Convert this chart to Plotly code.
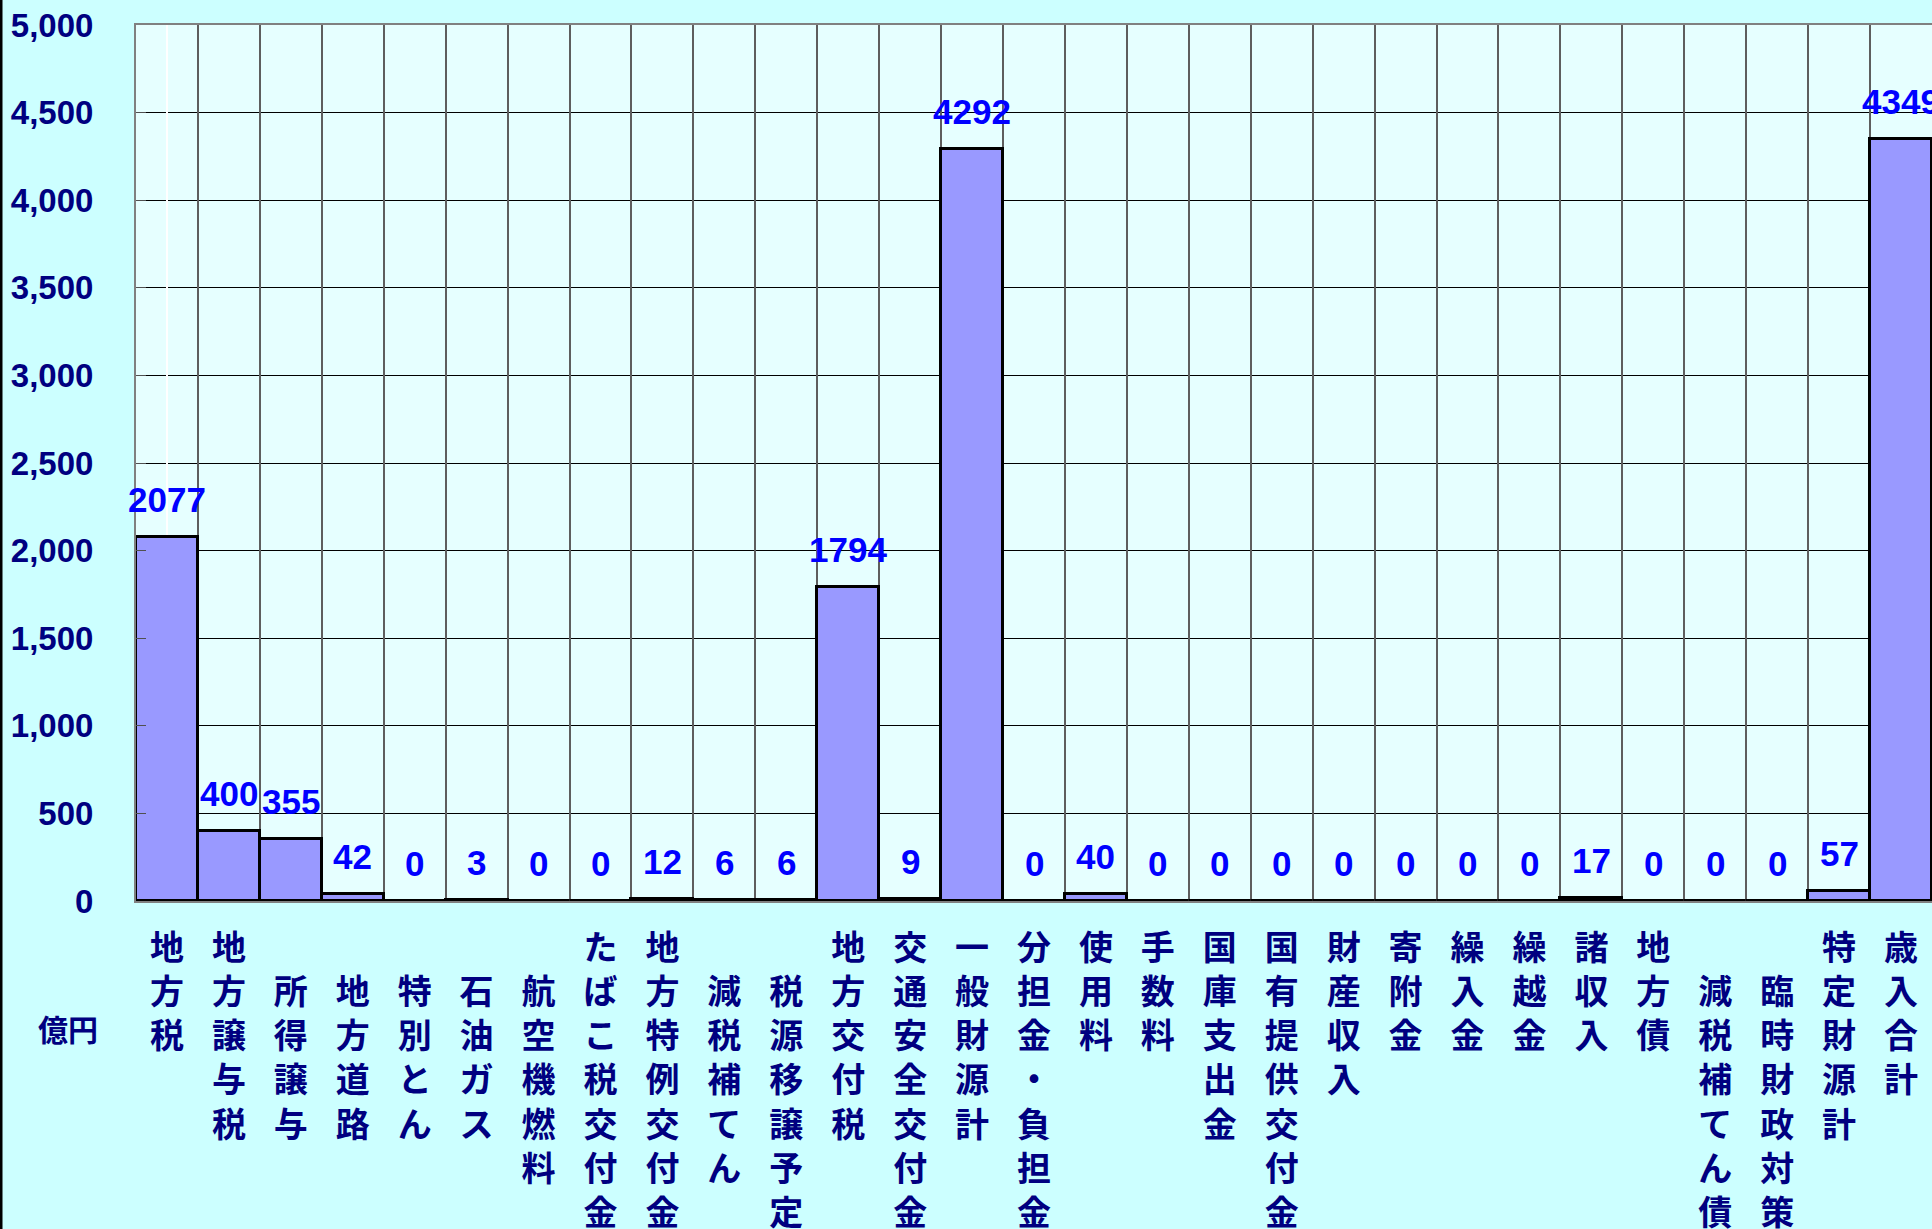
import plotly.graph_objects as go

# ---------------------------------------------------------------------------
# Data (億円)
# ---------------------------------------------------------------------------

CATEGORIES = [
    "地方税", "地方譲与税", "　所得譲与", "　地方道路", "　特別とん", "　石油ガス",
    "　航空機燃料", "たばこ税交付金", "地方特例交付金", "　減税補てん", "　税源移譲予定",
    "地方交付税", "交通安全交付金", "一般財源計", "分担金・負担金", "使用料", "手数料",
    "国庫支出金", "国有提供交付金", "財産収入", "寄附金", "繰入金", "繰越金", "諸収入",
    "地方債", "　減税補てん債", "　臨時財政対策", "特定財源計", "歳入合計",
]
VALUES = [
    2077, 400, 355, 42, 0, 3,
    0, 0, 12, 6, 6,
    1794, 9, 4292, 0, 40, 0,
    0, 0, 0.4, 0, 0, 0, 17,
    0, 0, 0, 57, 4349,
]
Y_TICKS = [0, 500, 1000, 1500, 2000, 2500, 3000, 3500, 4000, 4500, 5000]
UNIT_LABEL = "億円"

# ---------------------------------------------------------------------------
# Colours / fonts
# ---------------------------------------------------------------------------

COLOR_PAPER = "#CCFFFF"
COLOR_PLOT = "#E6FFFF"
COLOR_BAR = "#9999FF"
COLOR_NAVY = "#000080"
COLOR_LABEL = "#0000FF"
COLOR_GRID_V = "#5E5E5E"

FONT_NUM = "Liberation Sans, Arial, sans-serif"
FONT_JP = "Noto Sans CJK JP, sans-serif"

PLOT_W = 1796   # plot area size in px, used for paper-relative decorations
PLOT_H = 876


def _vertical(text: str) -> str:
    """Stack characters one per line (Excel-style vertical label)."""
    return "<br>".join(text)


x_pos = list(range(len(CATEGORIES)))

fig = go.Figure(go.Bar(
    x=x_pos,
    y=VALUES,
    marker=dict(color=COLOR_BAR, line=dict(color="black", width=3)),
    width=1.0,
    hoverinfo="skip",
))

# value labels above each bar
for xi, v in zip(x_pos, VALUES):
    fig.add_annotation(
        x=xi, y=v, text=f"{v:.0f}",
        showarrow=False, yanchor="bottom", yshift=16,
        font=dict(family=FONT_NUM, size=35, color=COLOR_LABEL, weight="bold"),
    )

fig.add_annotation(
    xref="paper", yref="paper", x=-68 / PLOT_W, y=-127 / PLOT_H,
    text=f"<b>{UNIT_LABEL}</b>", showarrow=False,
    xanchor="center", yanchor="middle",
    font=dict(family=FONT_JP, size=30, color=COLOR_NAVY),
)

fig.update_layout(
    width=1932,
    height=1229,
    margin=dict(l=136, r=0, t=25, b=328),
    paper_bgcolor=COLOR_PAPER,
    plot_bgcolor=COLOR_PLOT,
    bargap=0,
    showlegend=False,
    shapes=[dict(
        type="line", xref="paper", yref="paper",
        x0=-135 / PLOT_W, x1=-135 / PLOT_W, y0=-328 / PLOT_H, y1=1 + 25 / PLOT_H,
        line=dict(color="black", width=3),
    )],
)

fig.update_xaxes(
    range=[-0.5, len(CATEGORIES) - 0.5],
    tickmode="array",
    tickvals=x_pos,
    ticktext=[f"<b>{_vertical(c)}</b>" for c in CATEGORIES],
    tickangle=0,
    tickfont=dict(family=FONT_JP, size=34, color=COLOR_NAVY),
    ticks="",
    ticklabelstandoff=16,
    showgrid=False,
    showline=True, linecolor="#808080", linewidth=2, mirror=True,
    zeroline=False,
    automargin=False,
)
# vertical grid at category boundaries via an overlay axis
fig.update_layout(xaxis2=dict(
    overlaying="x", range=[-0.5, len(CATEGORIES) - 0.5],
    tickmode="array", tickvals=[i - 0.5 for i in x_pos[1:]],
    showticklabels=False, ticks="",
    showgrid=True, gridcolor=COLOR_GRID_V, gridwidth=1.5,
    side="bottom", automargin=False,
))
fig.add_trace(go.Scatter(x=[None], y=[None], xaxis="x2", showlegend=False))

fig.update_yaxes(
    range=[0, 5000],
    tickmode="array",
    tickvals=Y_TICKS,
    tickformat=",",
    tickfont=dict(family=FONT_NUM, size=33, color=COLOR_NAVY, weight="bold"),
    ticks="inside", ticklen=10, tickcolor="#505050",
    ticklabelstandoff=34,
    showgrid=True, gridcolor="black", gridwidth=1,
    showline=True, linecolor="#808080", linewidth=2, mirror=True,
    zeroline=False,
    automargin=False,
)

fig.write_html(
    "out.html",
    config={"displayModeBar": False},
    post_script="document.body.style.margin='0';",
)
